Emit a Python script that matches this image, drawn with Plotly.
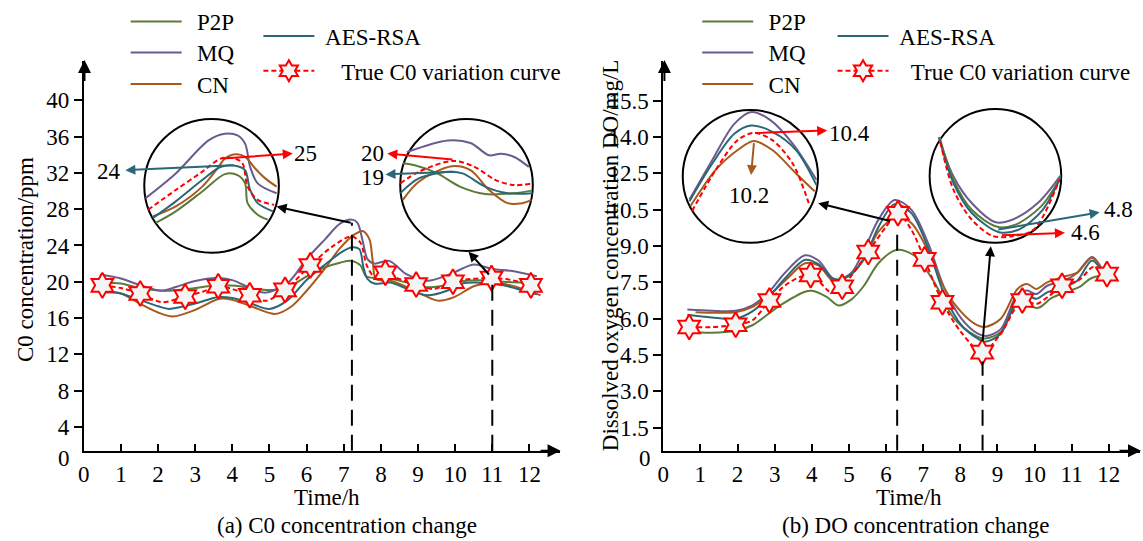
import plotly.graph_objects as go

W, H = 1143, 541
FONT = "Liberation Serif, Times New Roman, serif"
FS = 23

C_P2P = '#5B7B3A'
C_MQ = '#6B5B8E'
C_CN = '#A85A1E'
C_AES = '#2B6777'
C_RED = '#FF0000'

# ---------------- (a) C0 concentration ----------------
c0_p2p_t = [0.5, 1.0, 1.5, 2.2, 2.8, 3.6, 4.1, 4.6, 5.1, 5.6, 6.0, 6.5, 6.9, 7.2, 7.45, 7.6, 7.85, 8.3, 8.7, 9.2, 9.6, 10.1, 10.7, 11.3, 12.0]
c0_p2p_v = [19.9, 19.8, 19.3, 19.0, 19.2, 19.6, 19.55, 19.2, 19.1, 19.6, 20.6, 21.6, 22.1, 22.3, 21.8, 20.6, 20.4, 20.3, 19.9, 19.4, 19.5, 20.0, 20.15, 20.0, 19.9]
c0_mq_t = [0.45, 1.0, 1.5, 2.1, 2.5, 3.0, 3.55, 4.0, 4.5, 4.9, 5.5, 6.0, 6.5, 6.9, 7.22, 7.37, 7.51, 7.64, 7.82, 8.22, 8.7, 9.25, 9.85, 10.5, 11.0, 11.5, 12.2]
c0_mq_v = [20.8, 20.36, 19.64, 19.0, 19.45, 20.07, 20.4, 20.18, 19.27, 18.8, 19.9, 22.5, 24.7, 26.4, 26.85, 26.5, 24.5, 22.5, 22.0, 22.3, 20.8, 20.1, 20.8, 21.9, 21.4, 21.2, 20.6]
c0_cn_t = [0.6, 1.0, 1.5, 2.0, 2.4, 3.0, 3.5, 3.7, 4.0, 4.5, 5.15, 5.6, 6.0, 6.5, 6.9, 7.28, 7.51, 7.69, 7.78, 7.87, 8.26, 8.71, 9.16, 9.55, 9.97, 10.5, 10.94, 11.5, 12.3]
c0_cn_v = [18.8, 18.7, 17.6, 16.6, 16.17, 16.9, 17.9, 18.15, 18.0, 17.3, 16.45, 17.3, 19.0, 21.5, 23.7, 25.2, 25.6, 24.7, 22.3, 20.3, 20.1, 19.4, 18.5, 17.9, 18.3, 19.5, 19.9, 19.6, 18.5]
c0_aes_t = [0.45, 0.75, 1.0, 1.5, 2.0, 2.3, 3.0, 3.6, 4.0, 4.5, 5.0, 5.5, 6.0, 6.5, 6.92, 7.22, 7.42, 7.53, 7.64, 7.82, 8.26, 8.71, 9.25, 9.78, 10.14, 10.67, 11.3, 12.2]
c0_aes_v = [18.75, 18.9, 18.7, 18.0, 17.3, 17.0, 17.6, 18.3, 18.2, 17.6, 17.0, 18.0, 20.2, 21.9, 23.2, 23.8, 23.6, 21.6, 20.3, 19.8, 19.9, 19.2, 18.5, 19.0, 19.75, 19.9, 19.6, 18.6]
c0_true_t = [0.5, 1.0, 1.52, 2.1, 2.73, 3.2, 3.62, 4.0, 4.47, 4.9, 5.42, 6.1, 6.7, 7.2, 7.45, 7.62, 7.82, 8.12, 8.5, 8.95, 9.4, 9.94, 10.4, 10.98, 11.5, 12.04]
c0_true_v = [19.6, 19.3, 18.7, 17.75, 18.36, 18.9, 19.5, 19.2, 18.5, 17.9, 19.1, 21.8, 23.9, 25.0, 24.3, 21.8, 20.6, 21.0, 20.3, 19.7, 19.2, 20.0, 20.3, 20.4, 20.2, 19.6]
c0_true_star = [1, 0, 1, 0, 1, 0, 1, 0, 1, 0, 1, 1, 0, 0, 0, 0, 0, 1, 0, 1, 0, 1, 0, 1, 0, 1]
c0_focus_t = [7.22, 11.0]
c0_focus_top = [26.5, 20.66]
c0_yticks = [4, 8, 12, 16, 20, 24, 28, 32, 36, 40]

# inset 1 (peak near 7.2 h)
i1_mq_t = [6.71, 6.95, 7.21, 7.34, 7.44, 7.50, 7.54, 7.60, 7.75]
i1_mq_v = [19.81, 23.05, 27.38, 28.25, 28.03, 26.95, 23.92, 21.75, 20.45]
i1_true_t = [6.73, 6.95, 7.16, 7.31, 7.42, 7.48, 7.52, 7.60, 7.73]
i1_true_v = [18.29, 20.88, 23.27, 25.0, 25.0, 24.35, 21.32, 19.58, 18.94]
i1_aes_t = [6.77, 6.95, 7.16, 7.31, 7.44, 7.50, 7.54, 7.60, 7.72]
i1_aes_v = [17.21, 19.38, 22.18, 23.92, 24.0, 23.48, 20.88, 19.16, 18.08]
i1_p2p_t = [6.79, 6.95, 7.16, 7.34, 7.44, 7.50, 7.52, 7.60, 7.68]
i1_p2p_v = [16.56, 18.08, 20.68, 22.96, 22.83, 21.75, 19.16, 17.64, 16.99]
i1_cn_t = [6.77, 6.95, 7.16, 7.29, 7.34, 7.43, 7.50, 7.58, 7.66, 7.75]
i1_cn_v = [17.43, 18.73, 21.32, 23.92, 25.0, 25.56, 25.22, 23.70, 22.40, 21.32]

# inset 2 (near 11 h)
i2_mq_t = [10.55, 10.86, 11.03, 11.17, 11.26, 11.36, 11.47]
i2_mq_v = [20.8, 21.87, 21.64, 20.51, 20.66, 20.36, 19.45]
i2_true_t = [10.5, 10.64, 10.9, 11.06, 11.22, 11.36, 11.5]
i2_true_v = [17.94, 19.0, 20.0, 19.45, 18.24, 17.78, 17.94]
i2_p2p_t = [10.52, 10.61, 10.78, 10.95, 11.14, 11.36, 11.49]
i2_p2p_v = [19.75, 19.6, 18.85, 17.64, 16.96, 17.03, 17.27]
i2_aes_t = [10.5, 10.64, 10.86, 10.97, 11.14, 11.31, 11.5]
i2_aes_v = [17.03, 18.39, 19.0, 18.85, 17.64, 17.03, 17.03]
i2_cn_t = [10.52, 10.64, 10.89, 11.03, 11.17, 11.31, 11.42, 11.49]
i2_cn_v = [16.42, 18.09, 19.51, 19.15, 17.33, 16.12, 16.12, 16.42]

# ---------------- (b) DO concentration ----------------
do_p2p_t = [0.7, 1.3, 1.95, 2.4, 3.1, 3.8, 4.0, 4.4, 4.72, 5.07, 5.4, 5.8, 6.28, 6.77, 7.3, 7.84, 8.38, 8.66, 9.09, 9.54, 10.1, 10.45, 10.88, 11.2, 11.5, 11.85]
do_p2p_v = [5.45, 5.42, 5.5, 5.73, 6.5, 7.1, 7.15, 6.9, 6.55, 6.8, 7.35, 8.3, 8.84, 8.6, 7.5, 6.0, 5.32, 5.18, 5.45, 6.6, 6.45, 6.85, 7.12, 7.3, 7.65, 7.8]
do_mq_t = [0.65, 1.3, 1.95, 2.4, 2.84, 3.28, 3.82, 4.18, 4.54, 4.71, 5.07, 5.43, 5.8, 6.23, 6.68, 7.13, 7.58, 8.03, 8.47, 8.7, 9.09, 9.54, 9.8, 10.05, 10.34, 10.88, 11.15, 11.55, 11.85]
do_mq_v = [6.38, 6.33, 6.33, 6.55, 7.09, 7.9, 8.62, 8.4, 7.7, 7.6, 7.9, 8.9, 10.1, 10.9, 10.5, 9.13, 7.23, 6.0, 5.38, 5.29, 5.57, 7.02, 7.16, 7.02, 7.36, 7.63, 7.9, 8.55, 7.95]
do_cn_t = [0.87, 1.3, 1.95, 2.39, 2.84, 3.3, 3.82, 4.18, 4.54, 4.71, 5.07, 5.43, 5.8, 6.28, 6.68, 7.13, 7.58, 8.03, 8.38, 8.66, 9.09, 9.54, 9.8, 10.05, 10.34, 10.88, 11.15, 11.55, 11.85]
do_cn_v = [6.27, 6.25, 6.27, 6.48, 6.95, 7.6, 8.29, 8.2, 7.6, 7.57, 7.85, 8.5, 9.6, 10.2, 9.95, 8.8, 7.23, 6.27, 5.8, 5.66, 6.0, 7.23, 7.43, 7.23, 7.5, 7.77, 7.9, 8.52, 7.95]
do_aes_t = [0.65, 1.3, 1.95, 2.4, 2.84, 3.3, 3.82, 4.18, 4.54, 4.71, 5.07, 5.43, 5.8, 6.23, 6.68, 7.13, 7.58, 8.03, 8.47, 8.66, 9.09, 9.54, 9.8, 10.05, 10.34, 10.88, 11.15, 11.55, 11.85]
do_aes_v = [6.16, 6.05, 6.0, 6.3, 6.89, 7.7, 8.43, 8.25, 7.67, 7.62, 7.85, 8.55, 9.8, 10.73, 10.36, 8.93, 6.95, 5.73, 5.18, 5.05, 5.38, 6.82, 6.95, 6.82, 7.09, 7.36, 7.57, 8.4, 7.85]
do_true_t = [0.7, 1.3, 1.95, 2.4, 2.86, 3.4, 3.97, 4.55, 4.82, 5.52, 6.0, 6.32, 6.68, 7.04, 7.52, 8.02, 8.59, 9.06, 9.67, 10.05, 10.4, 10.74, 11.2, 11.6, 11.95]
do_true_v = [5.66, 5.65, 5.75, 5.93, 6.75, 7.5, 7.8, 7.06, 7.32, 8.75, 9.8, 10.35, 9.68, 8.45, 6.68, 5.45, 4.62, 5.32, 6.75, 6.61, 6.95, 7.36, 7.6, 8.15, 7.84]
do_true_star = [1, 0, 1, 0, 1, 0, 1, 0, 1, 1, 0, 1, 0, 1, 1, 0, 1, 0, 1, 0, 0, 1, 0, 0, 1]
do_focus_t = [6.3, 8.6]
do_focus_top = [9.82, 4.23]
do_ytick_pos = [1.5, 3.0, 4.5, 6.0, 7.5, 9.0, 10.5, 12.0, 13.5, 15.0]
do_ytick_txt = ["1.5", "3.0", "4.5", "6.0", "7.5", "9.0", "10.5", "12.5", "14.0", "15.5"]

# inset A (peak near 6.3 h)
iA_mq_t = [5.58, 5.85, 6.11, 6.31, 6.54, 6.8, 7.08]
iA_mq_v = [8.72, 9.72, 10.63, 10.93, 10.72, 10.13, 9.22]
iA_aes_t = [5.58, 5.85, 6.11, 6.31, 6.56, 6.84, 7.08]
iA_aes_v = [8.68, 9.63, 10.38, 10.59, 10.43, 9.97, 9.09]
iA_true_t = [5.61, 5.89, 6.15, 6.34, 6.56, 6.8, 6.99]
iA_true_v = [8.43, 9.47, 10.22, 10.4, 10.22, 9.63, 8.63]
iA_cn_t = [5.59, 5.89, 6.15, 6.34, 6.56, 6.84, 7.06]
iA_cn_v = [8.55, 9.47, 9.97, 10.2, 9.97, 9.38, 8.93]

# inset B (trough near 8.6 h)
iB_mq_t = [7.91, 8.09, 8.31, 8.6, 8.8, 9.11, 9.39]
iB_mq_v = [9.6, 7.6, 6.27, 5.3, 5.43, 6.27, 7.68]
iB_p2p_t = [7.92, 8.09, 8.31, 8.62, 8.84, 9.15, 9.39]
iB_p2p_v = [9.6, 7.43, 5.93, 5.07, 5.18, 6.1, 7.6]
iB_aes_t = [7.92, 8.09, 8.31, 8.64, 8.88, 9.17, 9.39]
iB_aes_v = [9.52, 7.27, 5.77, 4.8, 4.93, 5.93, 7.6]
iB_true_t = [7.93, 8.09, 8.31, 8.57, 8.8, 9.06, 9.37]
iB_true_v = [9.35, 6.93, 5.43, 4.6, 4.6, 4.93, 7.43]

x_ticks = list(range(13))

NB = '\u00a0'
TH = '\u2009'


def px(x):
    return x / W


def py(y):
    return 1 - y / H


fig = go.Figure()


def add_line(t, v, color, xa, ya, name=None, legend=None, dash=None, show=False, width=2):
    fig.add_trace(go.Scatter(
        x=t, y=v, mode='lines', name=name, xaxis=xa, yaxis=ya,
        line=dict(color=color, width=width, shape='spline', smoothing=0.9, dash=dash),
        showlegend=show, legend=legend, hoverinfo='skip'))


def add_true(t, v, star, xa, ya, legend, label):
    add_line(t, v, C_RED, xa, ya, dash='5px,3px')
    st = [a for a, s in zip(t, star) if s]
    sv = [b for b, s in zip(v, star) if s]
    fig.add_trace(go.Scatter(
        x=st, y=sv, mode='markers', xaxis=xa, yaxis=ya, showlegend=False,
        marker=dict(symbol='hexagram', size=19, color='#F4F4F4', line=dict(color=C_RED, width=2)),
        hoverinfo='skip'))
    # legend sample (dashed line with a star)
    fig.add_trace(go.Scatter(x=[None], y=[None], mode='lines+markers', xaxis=xa, yaxis=ya,
                             name=label, legend=legend, showlegend=True,
                             line=dict(color=C_RED, width=2, dash='5px,3px'),
                             marker=dict(symbol='hexagram', size=16, color='#F4F4F4',
                                         line=dict(color=C_RED, width=2))))


# main curves (a)
add_line(c0_p2p_t, c0_p2p_v, C_P2P, 'x', 'y', NB + TH + 'P2P', 'legend', show=True)
add_line(c0_mq_t, c0_mq_v, C_MQ, 'x', 'y', NB + TH + 'MQ', 'legend2', show=True)
add_line(c0_cn_t, c0_cn_v, C_CN, 'x', 'y', NB + TH + 'CN', 'legend3', show=True)
add_line(c0_aes_t, c0_aes_v, C_AES, 'x', 'y', NB + 'AES-RSA', 'legend4', show=True)
add_true(c0_true_t, c0_true_v, c0_true_star, 'x', 'y', 'legend5', NB * 3 + TH + 'True C0 variation curve')

# main curves (b)
add_line(do_p2p_t, do_p2p_v, C_P2P, 'x2', 'y2', NB + TH + 'P2P', 'legend6', show=True)
add_line(do_mq_t, do_mq_v, C_MQ, 'x2', 'y2', NB + TH + 'MQ', 'legend7', show=True)
add_line(do_cn_t, do_cn_v, C_CN, 'x2', 'y2', NB + TH + 'CN', 'legend8', show=True)
add_line(do_aes_t, do_aes_v, C_AES, 'x2', 'y2', NB + 'AES-RSA', 'legend9', show=True)
add_true(do_true_t, do_true_v, do_true_star, 'x2', 'y2', 'legend10', NB * 3 + 'True C0 variation curve')

# insets
add_line(i1_mq_t, i1_mq_v, C_MQ, 'x3', 'y3')
add_line(i1_cn_t, i1_cn_v, C_CN, 'x3', 'y3')
add_line(i1_p2p_t, i1_p2p_v, C_P2P, 'x3', 'y3')
add_line(i1_aes_t, i1_aes_v, C_AES, 'x3', 'y3')
add_line(i1_true_t, i1_true_v, C_RED, 'x3', 'y3', dash='5px,3px')

add_line(i2_mq_t, i2_mq_v, C_MQ, 'x4', 'y4')
add_line(i2_p2p_t, i2_p2p_v, C_P2P, 'x4', 'y4')
add_line(i2_cn_t, i2_cn_v, C_CN, 'x4', 'y4')
add_line(i2_aes_t, i2_aes_v, C_AES, 'x4', 'y4')
add_line(i2_true_t, i2_true_v, C_RED, 'x4', 'y4', dash='5px,3px')

add_line(iA_mq_t, iA_mq_v, C_MQ, 'x5', 'y5')
add_line(iA_aes_t, iA_aes_v, C_AES, 'x5', 'y5')
add_line(iA_cn_t, iA_cn_v, C_CN, 'x5', 'y5')
add_line(iA_true_t, iA_true_v, C_RED, 'x5', 'y5', dash='5px,3px')

add_line(iB_mq_t, iB_mq_v, C_MQ, 'x6', 'y6')
add_line(iB_p2p_t, iB_p2p_v, C_P2P, 'x6', 'y6')
add_line(iB_aes_t, iB_aes_v, C_AES, 'x6', 'y6')
add_line(iB_true_t, iB_true_v, C_RED, 'x6', 'y6', dash='5px,3px')

tickfont = dict(family=FONT, size=FS, color='black')


def main_x(dom, rng, anchor):
    return dict(domain=dom, range=rng, anchor=anchor, showline=True, linecolor='black', linewidth=2,
                ticks='inside', ticklen=7, tickwidth=2, tickcolor='black', tickvals=x_ticks,
                ticktext=[str(v) for v in x_ticks], tickfont=tickfont, showgrid=False, zeroline=False,
                fixedrange=True, ticklabelstandoff=2)


def main_y(dom, rng, anchor, tv, tt):
    return dict(domain=dom, range=rng, anchor=anchor, showline=True, linecolor='black', linewidth=2,
                ticks='outside', ticklen=8, tickwidth=2, tickcolor='black', tickvals=tv, ticktext=tt,
                tickfont=tickfont, showgrid=False, zeroline=False, fixedrange=True)


def inset(dom_x, dom_y, rx, ry, anchor):
    return (dict(domain=dom_x, range=rx, anchor='y' + anchor, visible=False, fixedrange=True),
            dict(domain=dom_y, range=ry, anchor='x' + anchor, visible=False, fixedrange=True))


ydom = [py(450), py(56.7)]
layout = dict(
    width=W, height=H, margin=dict(l=0, r=0, t=0, b=0),
    paper_bgcolor='white', plot_bgcolor='rgba(0,0,0,0)',
    font=dict(family=FONT, size=FS, color='black'),
    xaxis=main_x([px(78.2), px(556.8)], [0, 12.82], 'y'),
    yaxis=main_y(ydom, [1.344, 44.33], 'x', c0_yticks, [str(v) for v in c0_yticks]),
    xaxis2=main_x([px(660.7), px(1140)], [0, 12.84], 'y2'),
    yaxis2=main_y(ydom, [0.546, 16.63], 'x2', do_ytick_pos, do_ytick_txt),
)
for k, (dx, dy, rx, ry) in {
    '3': ([px(139), px(274.3)], [py(250), py(115)], [6.7, 7.768], [12.66, 30.19]),
    '4': ([px(396.3), px(529.6)], [py(248.3), py(115)], [10.5, 11.5], [11.73, 23.85]),
    '5': ([px(680.3), px(816.3)], [py(240), py(106)], [5.5, 7.1], [7.63, 10.98]),
    '6': ([px(928.5), px(1060.8)], [py(240), py(105)], [7.8, 9.394], [4.265, 11.015]),
}.items():
    xa, ya = inset(dx, dy, rx, ry, k)
    layout['xaxis' + k] = xa
    layout['yaxis' + k] = ya

legfont = dict(family=FONT, size=FS, color='black')


def leg(line_x, row_y):
    return dict(x=px(line_x - 13), y=py(row_y - 22), xanchor='left', yanchor='top', font=legfont,
                bgcolor='rgba(0,0,0,0)', borderwidth=0, itemwidth=51, itemclick=False,
                itemdoubleclick=False)


leg_pos = {
    'legend': (133.3, 16.7), 'legend2': (133.3, 48.3), 'legend3': (133.3, 80),
    'legend4': (266.7, 31.7), 'legend5': (266.7, 66.7),
    'legend6': (707.9, 16.7), 'legend7': (707.9, 48.3), 'legend8': (707.9, 80),
    'legend9': (843.9, 31.7), 'legend10': (843.9, 66.7),
}
for k, (lx, ly) in leg_pos.items():
    layout[k] = leg(lx, ly)
fig.update_layout(**layout)

# circles
for (x0, y0, x1, y1) in [(139, 115, 274.3, 250), (396.3, 115, 529.6, 248.3), (680.3, 106, 816.3, 240), (928.5, 105, 1060.8, 240)]:
    fig.add_shape(type='circle', xref='paper', yref='paper', x0=px(x0), x1=px(x1), y0=py(y1), y1=py(y0),
                  line=dict(color='black', width=2), fillcolor='rgba(0,0,0,0)', layer='below')

# dashed focus lines
for t, top in zip(c0_focus_t, c0_focus_top):
    fig.add_shape(type='line', xref='x', yref='y', x0=t, x1=t, y0=1.344, y1=top,
                  line=dict(color='black', width=2, dash='16px,9px'))
for t, top in zip(do_focus_t, do_focus_top):
    fig.add_shape(type='line', xref='x2', yref='y2', x0=t, x1=t, y0=0.546, y1=top,
                  line=dict(color='black', width=2, dash='16px,9px'))

ann = []


def arrow(x0, y0, x1, y1, color, size=1.0, width=2):
    ann.append(dict(x=px(x1), y=py(y1), xref='paper', yref='paper', ax=x0 - x1, ay=y0 - y1,
                    axref='pixel', ayref='pixel', showarrow=True, arrowhead=2, arrowsize=size,
                    arrowwidth=width, arrowcolor=color, text=''))


def label(x, y, s, angle=0, xanchor='center'):
    ann.append(dict(x=px(x), y=py(y), xref='paper', yref='paper', text=s, showarrow=False,
                    textangle=angle, xanchor=xanchor, yanchor='middle',
                    font=dict(family=FONT, size=FS, color='black')))


# axis arrows
arrow(536, 450, 557.5, 450, 'black', 1.3)
arrow(78.9, 78, 78.9, 55.5, 'black', 1.3)
arrow(1118, 450, 1141, 450, 'black', 1.3)
arrow(661.9, 78, 661.9, 55.5, 'black', 1.3)

# pointer arrows
arrow(347.7, 220, 272, 203.5, 'black')
arrow(486.7, 273.3, 465, 249, 'black')
arrow(889.9, 218.3, 816.5, 200, 'black')
arrow(981.7, 340, 990, 243.5, 'black')

# value arrows
arrow(230, 161.7, 120, 166.7, C_AES)
arrow(216.7, 155, 288.3, 150, C_RED)
arrow(450, 156, 383.3, 150, C_RED)
arrow(451.9, 168.3, 381.5, 171, C_AES)
arrow(752, 129.3, 825.5, 126.7, C_RED)
arrow(752, 138.3, 749, 171.7, C_CN)
arrow(996.5, 226.7, 1099.4, 209.3, C_AES)
arrow(1000, 232.5, 1064.5, 230, C_RED)

label(103.7, 168.3, '24')
label(301, 150, '25')
label(368.5, 149.5, '20')
label(368.5, 174, '19')
label(847.6, 130, '10.4')
label(747, 192.7, '10.2')
label(1118.8, 206.7, '4.8')
label(1085.6, 230, '4.6')

# zero labels on the y axes
label(58.3, 457.5, '0')
label(642.6, 457.5, '0')

# axis titles
label(19.5, 257, 'C0 concentration/ppm', angle=-90)
label(607.7, 253, 'Dissolved oxygen concentration DO/mg/L', angle=-90)
label(322.2, 496.7, 'Time/h')
label(907.3, 496.7, 'Time/h')
label(343.1, 525, '(a) C0 concentration change')
label(914.7, 525, '(b) DO concentration change')

fig.update_layout(annotations=ann)
fig.write_html('out.html', config={'displayModeBar': False},
               post_script="document.body.style.margin='0';document.body.style.padding='0';"
                           "document.body.style.overflow='hidden';")
